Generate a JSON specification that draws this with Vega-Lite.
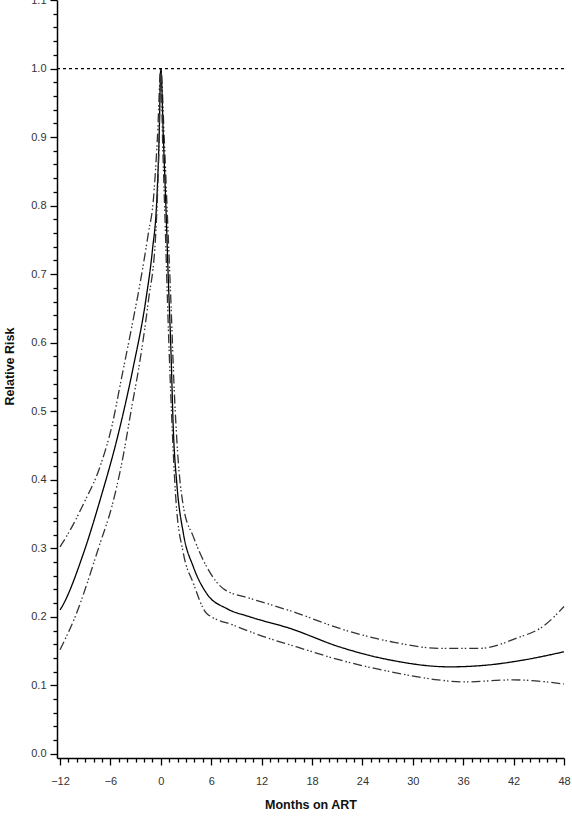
{
  "$schema": "https://vega.github.io/schema/vega-lite/v6.json",
  "width": 507,
  "height": 758,
  "autosize": {"type": "none"},
  "padding": {"left": 57, "top": 0, "right": 8, "bottom": 60},
  "background": "white",
  "config": {
    "view": {"stroke": null},
    "font": "Liberation Sans",
    "axis": {"grid": false, "domainColor": "black", "domainWidth": 1.5, "tickColor": "black", "tickWidth": 1.3, "labelFont": "Liberation Sans", "labelFontSize": 11, "labelColor": "#333", "titleFont": "Liberation Sans", "titleFontSize": 12.5, "titleFontWeight": "bold", "titleColor": "#111", "labelOverlap": false, "labelFlush": false, "labelBound": false}
  },
  "datasets": {
    "curves": [
      {"month": -12, "risk": 0.302, "series": "upper"},
      {"month": -10.5, "risk": 0.333, "series": "upper"},
      {"month": -9.2, "risk": 0.365, "series": "upper"},
      {"month": -7.24, "risk": 0.419, "series": "upper"},
      {"month": -5.85, "risk": 0.477, "series": "upper"},
      {"month": -4.65, "risk": 0.55, "series": "upper"},
      {"month": -3.46, "risk": 0.623, "series": "upper"},
      {"month": -2.48, "risk": 0.686, "series": "upper"},
      {"month": -1.49, "risk": 0.759, "series": "upper"},
      {"month": -0.89, "risk": 0.808, "series": "upper"},
      {"month": -0.4, "risk": 0.9, "series": "upper"},
      {"month": 0, "risk": 1.0, "series": "upper"},
      {"month": 0.4, "risk": 0.9, "series": "upper"},
      {"month": 0.8, "risk": 0.78, "series": "upper"},
      {"month": 1.2, "risk": 0.66, "series": "upper"},
      {"month": 1.6, "risk": 0.53, "series": "upper"},
      {"month": 2.0, "risk": 0.44, "series": "upper"},
      {"month": 2.7, "risk": 0.36, "series": "upper"},
      {"month": 3.87, "risk": 0.317, "series": "upper"},
      {"month": 5.46, "risk": 0.273, "series": "upper"},
      {"month": 7.45, "risk": 0.241, "series": "upper"},
      {"month": 10.6, "risk": 0.227, "series": "upper"},
      {"month": 13, "risk": 0.218, "series": "upper"},
      {"month": 15.6, "risk": 0.208, "series": "upper"},
      {"month": 21.3, "risk": 0.183, "series": "upper"},
      {"month": 27.3, "risk": 0.164, "series": "upper"},
      {"month": 33.2, "risk": 0.154, "series": "upper"},
      {"month": 38, "risk": 0.154, "series": "upper"},
      {"month": 42.4, "risk": 0.169, "series": "upper"},
      {"month": 45.5, "risk": 0.186, "series": "upper"},
      {"month": 48, "risk": 0.215, "series": "upper"},
      {"month": -12, "risk": 0.21, "series": "estimate"},
      {"month": -11.8, "risk": 0.214, "series": "estimate"},
      {"month": -9.2, "risk": 0.293, "series": "estimate"},
      {"month": -7.24, "risk": 0.37, "series": "estimate"},
      {"month": -5.06, "risk": 0.467, "series": "estimate"},
      {"month": -3.27, "risk": 0.565, "series": "estimate"},
      {"month": -1.79, "risk": 0.662, "series": "estimate"},
      {"month": -1.0, "risk": 0.735, "series": "estimate"},
      {"month": -0.48, "risk": 0.808, "series": "estimate"},
      {"month": -0.2, "risk": 0.9, "series": "estimate"},
      {"month": 0, "risk": 1.0, "series": "estimate"},
      {"month": 0.3, "risk": 0.9, "series": "estimate"},
      {"month": 0.6, "risk": 0.8, "series": "estimate"},
      {"month": 0.9, "risk": 0.69, "series": "estimate"},
      {"month": 1.2, "risk": 0.59, "series": "estimate"},
      {"month": 1.5, "risk": 0.47, "series": "estimate"},
      {"month": 1.9, "risk": 0.395, "series": "estimate"},
      {"month": 2.68, "risk": 0.322, "series": "estimate"},
      {"month": 3.87, "risk": 0.273, "series": "estimate"},
      {"month": 5.46, "risk": 0.234, "series": "estimate"},
      {"month": 7.85, "risk": 0.212, "series": "estimate"},
      {"month": 10.6, "risk": 0.2, "series": "estimate"},
      {"month": 15.4, "risk": 0.183, "series": "estimate"},
      {"month": 21.3, "risk": 0.156, "series": "estimate"},
      {"month": 27.3, "risk": 0.137, "series": "estimate"},
      {"month": 34.4, "risk": 0.127, "series": "estimate"},
      {"month": 39.2, "risk": 0.13, "series": "estimate"},
      {"month": 43.2, "risk": 0.137, "series": "estimate"},
      {"month": 48, "risk": 0.149, "series": "estimate"},
      {"month": -12, "risk": 0.152, "series": "lower"},
      {"month": -10.2, "risk": 0.2, "series": "lower"},
      {"month": -7.24, "risk": 0.307, "series": "lower"},
      {"month": -5.85, "risk": 0.36, "series": "lower"},
      {"month": -4.65, "risk": 0.424, "series": "lower"},
      {"month": -3.46, "risk": 0.506, "series": "lower"},
      {"month": -2.48, "risk": 0.574, "series": "lower"},
      {"month": -1.49, "risk": 0.66, "series": "lower"},
      {"month": -0.6, "risk": 0.76, "series": "lower"},
      {"month": -0.25, "risk": 0.87, "series": "lower"},
      {"month": 0, "risk": 1.0, "series": "lower"},
      {"month": 0.2, "risk": 0.9, "series": "lower"},
      {"month": 0.5, "risk": 0.78, "series": "lower"},
      {"month": 0.9, "risk": 0.62, "series": "lower"},
      {"month": 1.3, "risk": 0.49, "series": "lower"},
      {"month": 1.8, "risk": 0.37, "series": "lower"},
      {"month": 2.68, "risk": 0.293, "series": "lower"},
      {"month": 3.87, "risk": 0.249, "series": "lower"},
      {"month": 5.46, "risk": 0.205, "series": "lower"},
      {"month": 8.6, "risk": 0.188, "series": "lower"},
      {"month": 11.8, "risk": 0.173, "series": "lower"},
      {"month": 16.2, "risk": 0.156, "series": "lower"},
      {"month": 21.3, "risk": 0.137, "series": "lower"},
      {"month": 27.3, "risk": 0.12, "series": "lower"},
      {"month": 33, "risk": 0.108, "series": "lower"},
      {"month": 36, "risk": 0.105, "series": "lower"},
      {"month": 42, "risk": 0.108, "series": "lower"},
      {"month": 48, "risk": 0.102, "series": "lower"}
    ],
    "reference": [{"risk": 1.0}]
  },
  "layer": [
    {
      "data": {"name": "curves"},
      "mark": {"type": "line", "interpolate": "monotone", "strokeWidth": 1.3},
      "encoding": {
        "x": {
          "field": "month", "type": "quantitative",
          "scale": {"domain": [-12.36, 48], "nice": false, "zero": false},
          "axis": {
            "title": "Months on ART",
            "titleY": 46, "titleBaseline": "middle",
            "labelOverlap": false,
            "tickCount": 500,
            "format": "d",
            "values": [-12,-11,-10,-9,-8,-7,-6,-5,-4,-3,-2,-1,0,1,2,3,4,5,6,7,8,9,10,11,12,13,14,15,16,17,18,19,20,21,22,23,24,25,26,27,28,29,30,31,32,33,34,35,36,37,38,39,40,41,42,43,44,45,46,47,48],
            "labelExpr": "datum.value % 6 === 0 ? datum.label : ''",
            "tickSize": {"condition": {"test": "datum.value % 6 === 0", "value": 7}, "value": 4},
            "labelPadding": 10
          }
        },
        "y": {
          "field": "risk", "type": "quantitative",
          "scale": {"domain": [-0.006, 1.1], "nice": false, "zero": false},
          "axis": {
            "title": "Relative Risk",
            "titleX": -41, "titleY": 366,
            "labelOverlap": false,
            "tickCount": 500,
            "values": [0,0.02,0.04,0.06,0.08,0.1,0.12,0.14,0.16,0.18,0.2,0.22,0.24,0.26,0.28,0.3,0.32,0.34,0.36,0.38,0.4,0.42,0.44,0.46,0.48,0.5,0.52,0.54,0.56,0.58,0.6,0.62,0.64,0.66,0.68,0.7,0.72,0.74,0.76,0.78,0.8,0.82,0.84,0.86,0.88,0.9,0.92,0.94,0.96,0.98,1.0,1.02,1.04,1.06,1.08,1.1],
            "format": ".2f",
            "labelExpr": "substring(datum.label, 3, 4) === '0' ? substring(datum.label, 0, 3) : ''",
            "tickSize": {"condition": {"test": "substring(format(datum.value, '.2f'), 3, 4) === '0'", "value": 7}, "value": 4},
            "labelPadding": 4
          }
        },
        "detail": {"field": "series"},
        "color": {"field": "series", "type": "nominal", "scale": {"domain": ["estimate", "upper", "lower"], "range": ["#000000", "#333333", "#333333"]}, "legend": null},
        "strokeDash": {"field": "series", "type": "nominal", "scale": {"domain": ["estimate", "upper", "lower"], "range": [[1, 0], [9, 3, 1.5, 2, 1.5, 3], [9, 3, 1.5, 2, 1.5, 3]]}, "legend": null}
      }
    },
    {
      "data": {"name": "reference"},
      "mark": {"type": "rule", "color": "black", "strokeWidth": 1.3, "strokeDash": [3, 3]},
      "encoding": {
        "y": {"field": "risk", "type": "quantitative"}
      }
    }
  ]
}
